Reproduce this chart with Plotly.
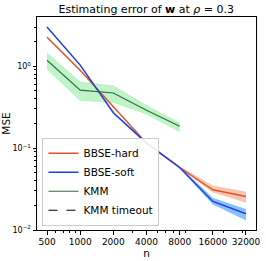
import math
import plotly.graph_objects as go

n_vals = [500, 1000, 2000, 4000, 8000, 16000, 32000]
tick_labels = ["500", "1000", "2000", "4000", "8000", "16000", "32000"]

hard_mean = [2.26, 0.89, 0.32, 0.115, 0.058, 0.031, 0.0256]
hard_lo = [2.22, 0.875, 0.315, 0.113, 0.057, 0.029, 0.0218]
hard_hi = [2.30, 0.905, 0.325, 0.117, 0.059, 0.0345, 0.029]

soft_mean = [3.0, 1.03, 0.27, 0.115, 0.058, 0.0223, 0.0158]
soft_lo = [2.96, 1.015, 0.265, 0.113, 0.057, 0.0207, 0.0132]
soft_hi = [3.04, 1.045, 0.275, 0.117, 0.059, 0.0244, 0.0178]

kmm_n = [500, 1000, 2000, 4000, 8000]
kmm_mean = [1.18, 0.51, 0.47, 0.29, 0.185]
kmm_lo = [0.92, 0.38, 0.36, 0.26, 0.158]
kmm_hi = [1.45, 0.64, 0.575, 0.33, 0.203]

kmm_timeout_n = 8000

fig = go.Figure()

def band(x, lo, hi, fillcolor):
    fig.add_trace(go.Scatter(x=x, y=hi, mode="lines", line=dict(width=0.6, color=fillcolor),
                             showlegend=False, hoverinfo="skip"))
    fig.add_trace(go.Scatter(x=x, y=lo, mode="lines", line=dict(width=0.6, color=fillcolor),
                             fill="tonexty", fillcolor=fillcolor, showlegend=False, hoverinfo="skip"))

band(n_vals, hard_lo, hard_hi, "rgba(240,130,80,0.45)")
band(n_vals, soft_lo, soft_hi, "rgba(40,140,255,0.55)")
band(kmm_n, kmm_lo, kmm_hi, "rgba(110,230,130,0.45)")

fig.add_trace(go.Scatter(x=n_vals, y=hard_mean, mode="lines", name="BBSE-hard",
                         line=dict(color="#e0552a", width=1.4)))
fig.add_trace(go.Scatter(x=n_vals, y=soft_mean, mode="lines", name="BBSE-soft",
                         line=dict(color="#1f3fe0", width=1.4)))
fig.add_trace(go.Scatter(x=kmm_n, y=kmm_mean, mode="lines", name="KMM",
                         line=dict(color="#2f6b3c", width=1.1)))
fig.add_trace(go.Scatter(x=[None], y=[None], mode="lines", name="KMM timeout",
                         line=dict(color="black", width=1.2, dash="dash")))

fig.add_shape(type="line", xref="x", yref="paper",
              x0=math.log10(kmm_timeout_n), x1=math.log10(kmm_timeout_n), y0=0, y1=1,
              line=dict(color="black", width=1.2, dash="dash"))

x_minor = [600, 700, 800, 900, 2000, 3000, 4000, 5000, 6000, 7000, 8000, 9000, 20000, 30000]
y_minor = [k * 10.0 ** e for e in (-2, -1) for k in range(2, 10)] + [2, 3]

font_family = "DejaVu Sans"
fig.update_layout(
    width=266, height=261,
    margin=dict(l=37, r=10, t=17, b=31, autoexpand=False),
    paper_bgcolor="white", plot_bgcolor="white",
    font=dict(family=font_family, color="black", size=10),
    title=dict(text="Estimating error of <b>w</b> at <i>ρ</i> = 0.3", x=0.55, xanchor="center",
               y=1 - 9 / 261, yanchor="middle", font=dict(size=11)),
    showlegend=True,
    legend=dict(x=0.025, y=0.02, xanchor="left", yanchor="bottom", traceorder="normal",
                bgcolor="rgba(255,255,255,0.9)", bordercolor="#cccccc", borderwidth=1,
                font=dict(size=10.5), itemwidth=30, tracegroupgap=0),
    xaxis=dict(type="log", range=[2.608, 4.596], tickvals=n_vals, ticktext=tick_labels,
               automargin=False,
               showgrid=False, zeroline=False, showline=True, linecolor="black", linewidth=1,
               mirror=True, ticks="outside", ticklen=3.5, tickwidth=0.8, tickcolor="black",
               tickfont=dict(size=9),
               minor=dict(tickvals=x_minor, ticks="outside", ticklen=2, tickwidth=0.6, tickcolor="black"),
               title=dict(text="n", font=dict(size=10.5), standoff=0)),
    yaxis=dict(type="log", range=[-2, 0.6], tickvals=[0.01, 0.1, 1],
               ticktext=["10<sup>−2</sup>", "10<sup>−1</sup>", "10<sup>0</sup>"],
               automargin=False,
               showgrid=False, zeroline=False, showline=True, linecolor="black", linewidth=1,
               mirror=True, ticks="outside", ticklen=3.5, tickwidth=0.8, tickcolor="black",
               tickfont=dict(size=8),
               minor=dict(tickvals=y_minor, ticks="outside", ticklen=2, tickwidth=0.6, tickcolor="black"),
               title=dict(text="MSE", font=dict(size=10.5), standoff=1)),
)

fig.write_html("out.html", config={"displayModeBar": False},
               post_script="document.body.style.margin='0';document.body.style.overflow='hidden';")
